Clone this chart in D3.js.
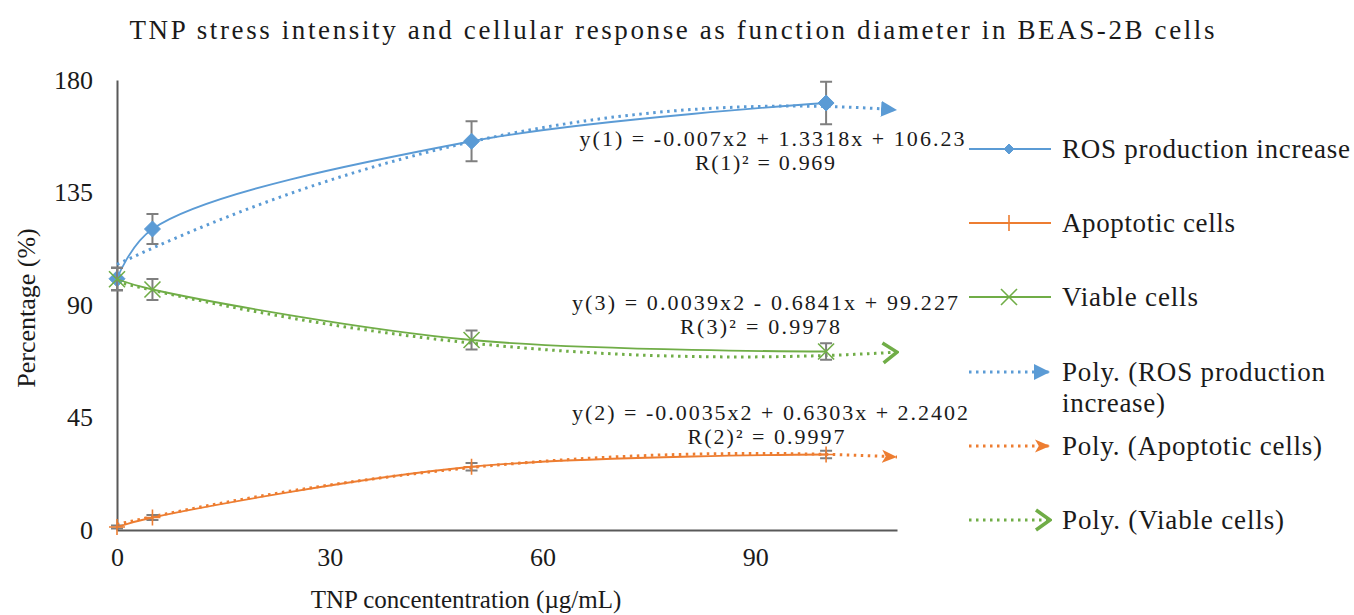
<!DOCTYPE html>
<html>
<head>
<meta charset="utf-8">
<script src="https://cdn.jsdelivr.net/npm/d3@7"></script>
<style>
  html, body { margin: 0; padding: 0; background: #ffffff; }
  svg { display: block; }
  text { font-family: "Liberation Serif", "Times New Roman", serif; fill: #1a1a1a; }
</style>
</head>
<body>
<svg id="chart" width="1354" height="615"></svg>
<script>
// ---------------- data ----------------
const concentrations = [0, 5, 50, 100];
const rosValues = [100.5, 120.4, 155.5, 170.8];
const rosErrors = [4.5, 6, 8, 8.5];
const apoptoticValues = [1.2, 5, 25.3, 30.2];
const apoptoticErrors = [0.6, 1, 1.5, 1.5];
const viableValues = [100.3, 96.2, 76, 71.4];
const viableErrors = [4.5, 4.2, 3.8, 3.3];

// polynomial trendline coefficients (c0, c1, c2) as printed on the chart
const rosFit = [106.23, 1.3318, -0.007];
const apoptoticFit = [2.2402, 0.6303, -0.0035];
const viableFit = [99.227, -0.6841, 0.0039];
const trendRange = [0, 110];

const xTicks = [0, 30, 60, 90];
const yTicks = [0, 45, 90, 135, 180];

const seriesNames = ["ROS production increase", "Apoptotic cells", "Viable cells"];
const equationLabels = [
  "y(1) = -0.007x2 + 1.3318x + 106.23", "R(1)² = 0.969",
  "y(2) = -0.0035x2 + 0.6303x + 2.2402", "R(2)² = 0.9997",
  "y(3) = 0.0039x2 - 0.6841x + 99.227", "R(3)² = 0.9978"
];
const titleText = "TNP stress intensity and cellular response as function diameter in BEAS-2B cells";
const xTitle = "TNP concententration (µg/mL)";
const yTitle = "Percentage (%)";

// ---------------- layout ----------------
const colors = ["#5B9BD5", "#ED7D31", "#70AD47"];
const svg = d3.select("#chart");
const x = d3.scaleLinear().domain([0, 110]).range([117, 897]);
const y = d3.scaleLinear().domain([0, 180]).range([530, 80]);
const FS = 26;

// defs: arrowheads
const defs = svg.append("defs");
defs.append("marker").attr("id", "arrBlue").attr("markerUnits", "userSpaceOnUse")
  .attr("viewBox", "0 0 16 16").attr("refX", 16).attr("refY", 8)
  .attr("markerWidth", 16).attr("markerHeight", 16).attr("orient", "auto")
  .append("path").attr("d", "M0,0 L16,8 L0,16 Z").attr("fill", colors[0]);
defs.append("marker").attr("id", "arrOrange").attr("markerUnits", "userSpaceOnUse")
  .attr("viewBox", "0 0 16 16").attr("refX", 16).attr("refY", 8)
  .attr("markerWidth", 15).attr("markerHeight", 15).attr("orient", "auto")
  .append("path").attr("d", "M0,1 L16,8 L0,15 L4,8 Z").attr("fill", colors[1]);
defs.append("marker").attr("id", "arrGreen").attr("markerUnits", "userSpaceOnUse")
  .attr("viewBox", "0 0 18 24").attr("refX", 16).attr("refY", 12)
  .attr("markerWidth", 18).attr("markerHeight", 24).attr("orient", "auto")
  .append("path").attr("d", "M2,2 L16,12 L2,22").attr("fill", "none")
  .attr("stroke", colors[2]).attr("stroke-width", 3.5);
const arrowIds = ["arrBlue", "arrOrange", "arrGreen"];

// title
svg.append("text").attr("x", 672).attr("y", 39).attr("text-anchor", "middle")
  .attr("font-size", 27).attr("textLength", 1085).attr("lengthAdjust", "spacing")
  .text(titleText);

// axes
const yAxis = svg.append("g").attr("transform", `translate(${x(0)},0)`)
  .call(d3.axisLeft(y).tickValues(yTicks).tickSize(0).tickPadding(24));
const xAxis = svg.append("g").attr("transform", `translate(0,${y(0)})`)
  .call(d3.axisBottom(x).tickValues(xTicks).tickSize(0).tickPadding(18));
[xAxis, yAxis].forEach(g => {
  g.select(".domain").attr("stroke", "#595959").attr("stroke-width", 2);
  g.selectAll("text").attr("font-size", FS).attr("fill", "#1a1a1a")
    .attr("font-family", "Liberation Serif, Times New Roman, serif");
});

svg.append("text").attr("x", 466).attr("y", 608).attr("text-anchor", "middle")
  .attr("font-size", 25).text(xTitle);
svg.append("text").attr("transform", "translate(35,308) rotate(-90)")
  .attr("text-anchor", "middle").attr("font-size", FS).text(yTitle);

const allSeries = [
  { values: rosValues, errors: rosErrors, fit: rosFit, marker: "diamond" },
  { values: apoptoticValues, errors: apoptoticErrors, fit: apoptoticFit, marker: "plus" },
  { values: viableValues, errors: viableErrors, fit: viableFit, marker: "cross" }
];

const smooth = d3.line().x(d => x(d[0])).y(d => y(d[1])).curve(d3.curveCatmullRom.alpha(0.5));
const straight = d3.line().x(d => x(d[0])).y(d => y(d[1])).curve(d3.curveLinear);

function drawMarker(g, type, cx, cy, color, s) {
  if (type === "diamond") {
    g.append("path").attr("d", `M${cx},${cy - s} L${cx + s},${cy} L${cx},${cy + s} L${cx - s},${cy} Z`)
      .attr("fill", color).attr("stroke", color);
  } else if (type === "plus") {
    g.append("path").attr("d", `M${cx - s},${cy} L${cx + s},${cy} M${cx},${cy - s} L${cx},${cy + s}`)
      .attr("stroke", color).attr("stroke-width", 1.6).attr("fill", "none");
  } else {
    g.append("path").attr("d", `M${cx - s},${cy - s} L${cx + s},${cy + s} M${cx - s},${cy + s} L${cx + s},${cy - s}`)
      .attr("stroke", color).attr("stroke-width", 1.6).attr("fill", "none");
  }
}

// trendlines (sampled from printed polynomial coefficients)
allSeries.forEach((s, i) => {
  const pts = d3.range(trendRange[0], trendRange[1] + 0.001, 1)
    .map(t => [t, s.fit[0] + s.fit[1] * t + s.fit[2] * t * t]);
  svg.append("path").attr("d", straight(pts)).attr("fill", "none")
    .attr("stroke", colors[i]).attr("stroke-width", 3)
    .attr("stroke-dasharray", "2.5,4.5")
    .attr("marker-end", `url(#${arrowIds[i]})`);
});

// error bars, lines, markers
allSeries.forEach((s, i) => {
  const g = svg.append("g");
  concentrations.forEach((c, j) => {
    const cx = x(c), y1 = y(s.values[j] + s.errors[j]), y2 = y(s.values[j] - s.errors[j]);
    g.append("path").attr("d", `M${cx},${y1} L${cx},${y2} M${cx - 6},${y1} L${cx + 6},${y1} M${cx - 6},${y2} L${cx + 6},${y2}`)
      .attr("stroke", "#7f7f7f").attr("stroke-width", 2).attr("fill", "none");
  });
  const pts = concentrations.map((c, j) => [c, s.values[j]]);
  g.append("path").attr("d", smooth(pts)).attr("fill", "none")
    .attr("stroke", colors[i]).attr("stroke-width", 1.8);
  pts.forEach(p => drawMarker(g, s.marker, x(p[0]), y(p[1]), colors[i], 8));
});

// equation labels
const eqPos = [[772, 146, 385], [765, 170, 140], [770, 420, 396], [766, 444, 157], [765, 310, 386], [760, 334, 160]];
equationLabels.forEach((t, k) => {
  svg.append("text").attr("x", eqPos[k][0]).attr("y", eqPos[k][1])
    .attr("text-anchor", "middle").attr("font-size", 22)
    .attr("textLength", eqPos[k][2]).attr("lengthAdjust", "spacing").text(t);
});

// legend
const legend = svg.append("g");
const legendRows = [
  { kind: "line", i: 0, y: 149, label: [[seriesNames[0], 288]] },
  { kind: "line", i: 1, y: 223, label: [[seriesNames[1], 173]] },
  { kind: "line", i: 2, y: 297, label: [[seriesNames[2], 136]] },
  { kind: "trend", i: 0, y: 372, label: [["Poly. (ROS production", 263], ["increase)", 103]] },
  { kind: "trend", i: 1, y: 446, label: [["Poly. (Apoptotic cells)", 260]] },
  { kind: "trend", i: 2, y: 520, label: [["Poly. (Viable cells)", 222]] }
];
const markerTypes = ["diamond", "plus", "cross"];
legendRows.forEach(r => {
  if (r.kind === "line") {
    legend.append("line").attr("x1", 969).attr("x2", 1051).attr("y1", r.y).attr("y2", r.y)
      .attr("stroke", colors[r.i]).attr("stroke-width", 1.8);
    drawMarker(legend, markerTypes[r.i], 1009, r.y, colors[r.i], r.i === 0 ? 5 : 8);
  } else {
    legend.append("line").attr("x1", 969).attr("x2", 1050).attr("y1", r.y).attr("y2", r.y)
      .attr("stroke", colors[r.i]).attr("stroke-width", 3)
      .attr("stroke-dasharray", "2.5,4.5")
      .attr("marker-end", `url(#${arrowIds[r.i]})`);
  }
  r.label.forEach((t, k) => {
    legend.append("text").attr("x", 1062).attr("y", r.y + 9 + k * 31)
      .attr("font-size", 27).attr("textLength", t[1]).attr("lengthAdjust", "spacing").text(t[0]);
  });
});
</script>
</body>
</html>
